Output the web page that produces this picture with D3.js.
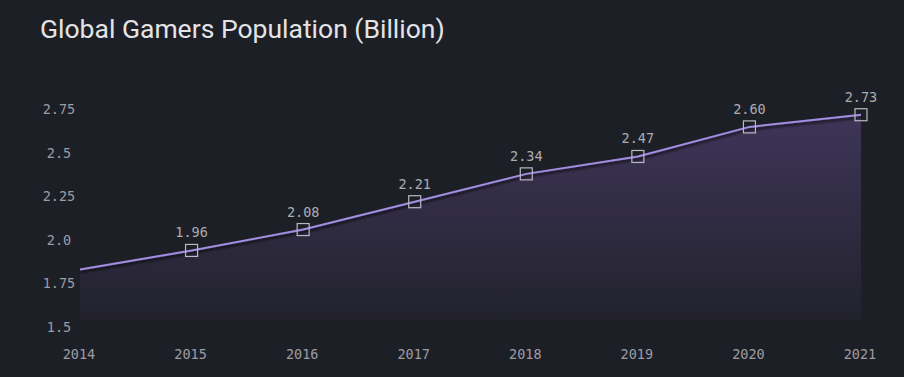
<!DOCTYPE html>
<html>
<head>
<meta charset="utf-8">
<script src="https://cdn.jsdelivr.net/npm/d3@7"></script>
<style>
  body { margin: 0; background: #1d1f27; }
  #chart { width: 904px; height: 377px; }
</style>
</head>
<body>
<div id="chart"></div>
<script>
// data
const years = ["2014", "2015", "2016", "2017", "2018", "2019", "2020", "2021"];
const values = [1.83, 1.94, 2.06, 2.22, 2.38, 2.48, 2.65, 2.72];
const pointLabels = [null, "1.96", "2.08", "2.21", "2.34", "2.47", "2.60", "2.73"];
const yTicks = [1.5, 1.75, 2.0, 2.25, 2.5, 2.75];
const yTickLabels = ["1.5", "1.75", "2.0", "2.25", "2.5", "2.75"];

const width = 904, height = 377;
const mono = "'DejaVu Sans Mono', 'Liberation Mono', monospace";

const svg = d3.select("#chart").append("svg")
    .attr("width", width)
    .attr("height", height);

svg.append("rect")
    .attr("width", width)
    .attr("height", height)
    .attr("fill", "#1d1f27");

// title
svg.append("text")
    .attr("x", 40)
    .attr("y", 38)
    .attr("fill", "#e4e4e6")
    .style("font-family", "Roboto, sans-serif")
    .style("font-size", "26.5px")
    .text("Global Gamers Population (Billion)");

const x = d3.scalePoint()
    .domain(years)
    .range([80, 861]);

const y = d3.scaleLinear()
    .domain([1.5, 2.75])
    .range([327, 109.5]);

const defs = svg.append("defs");

const grad = defs.append("linearGradient")
    .attr("id", "areaGrad")
    .attr("x1", 0).attr("y1", 0)
    .attr("x2", 0).attr("y2", 1);
grad.append("stop").attr("offset", "0%").attr("stop-color", "#3e3558");
grad.append("stop").attr("offset", "100%").attr("stop-color", "#22222d");

const shadow = defs.append("filter")
    .attr("id", "lineShadow")
    .attr("x", "-5%").attr("y", "-50%")
    .attr("width", "110%").attr("height", "200%");
shadow.append("feDropShadow")
    .attr("dx", 0)
    .attr("dy", 2.5)
    .attr("stdDeviation", 1.2)
    .attr("flood-color", "#000")
    .attr("flood-opacity", 0.7);

const pts = years.map((yr, i) => ({ year: yr, value: values[i], label: pointLabels[i] }));

// area
const area = d3.area()
    .x(d => x(d.year))
    .y0(y(1.54))
    .y1(d => y(d.value));

svg.append("path")
    .datum(pts)
    .attr("d", area)
    .attr("fill", "url(#areaGrad)");

// line
const line = d3.line()
    .x(d => x(d.year))
    .y(d => y(d.value));

svg.append("path")
    .datum(pts)
    .attr("d", line)
    .attr("fill", "none")
    .attr("stroke", "#a28de0")
    .attr("stroke-width", 2)
    .attr("filter", "url(#lineShadow)");

// square markers + value labels
const marked = pts.filter(d => d.label);

svg.selectAll(".marker")
    .data(marked)
    .enter()
    .append("rect")
    .attr("class", "marker")
    .attr("x", d => x(d.year) - 6)
    .attr("y", d => y(d.value) - 6)
    .attr("width", 12)
    .attr("height", 12)
    .attr("fill", "none")
    .attr("stroke", "#b9b9c0")
    .attr("stroke-width", 1.2);

svg.selectAll(".pt-label")
    .data(marked)
    .enter()
    .append("text")
    .attr("class", "pt-label")
    .attr("x", d => x(d.year))
    .attr("y", d => y(d.value) - 13)
    .attr("text-anchor", "middle")
    .attr("fill", "#acacb1")
    .style("font-family", mono)
    .style("font-size", "13.5px")
    .text(d => d.label);

// y axis labels
svg.selectAll(".y-label")
    .data(yTicks)
    .enter()
    .append("text")
    .attr("class", "y-label")
    .attr("x", 59)
    .attr("y", d => y(d))
    .attr("dy", "0.35em")
    .attr("text-anchor", "middle")
    .attr("fill", "#9c9ca2")
    .style("font-family", mono)
    .style("font-size", "13.5px")
    .text((d, i) => yTickLabels[i]);

// x axis labels
svg.selectAll(".x-label")
    .data(years)
    .enter()
    .append("text")
    .attr("class", "x-label")
    .attr("x", d => x(d) - 1)
    .attr("y", 354)
    .attr("dy", "0.35em")
    .attr("text-anchor", "middle")
    .attr("fill", "#9c9ca2")
    .style("font-family", mono)
    .style("font-size", "13.5px")
    .text(d => d);
</script>
</body>
</html>
